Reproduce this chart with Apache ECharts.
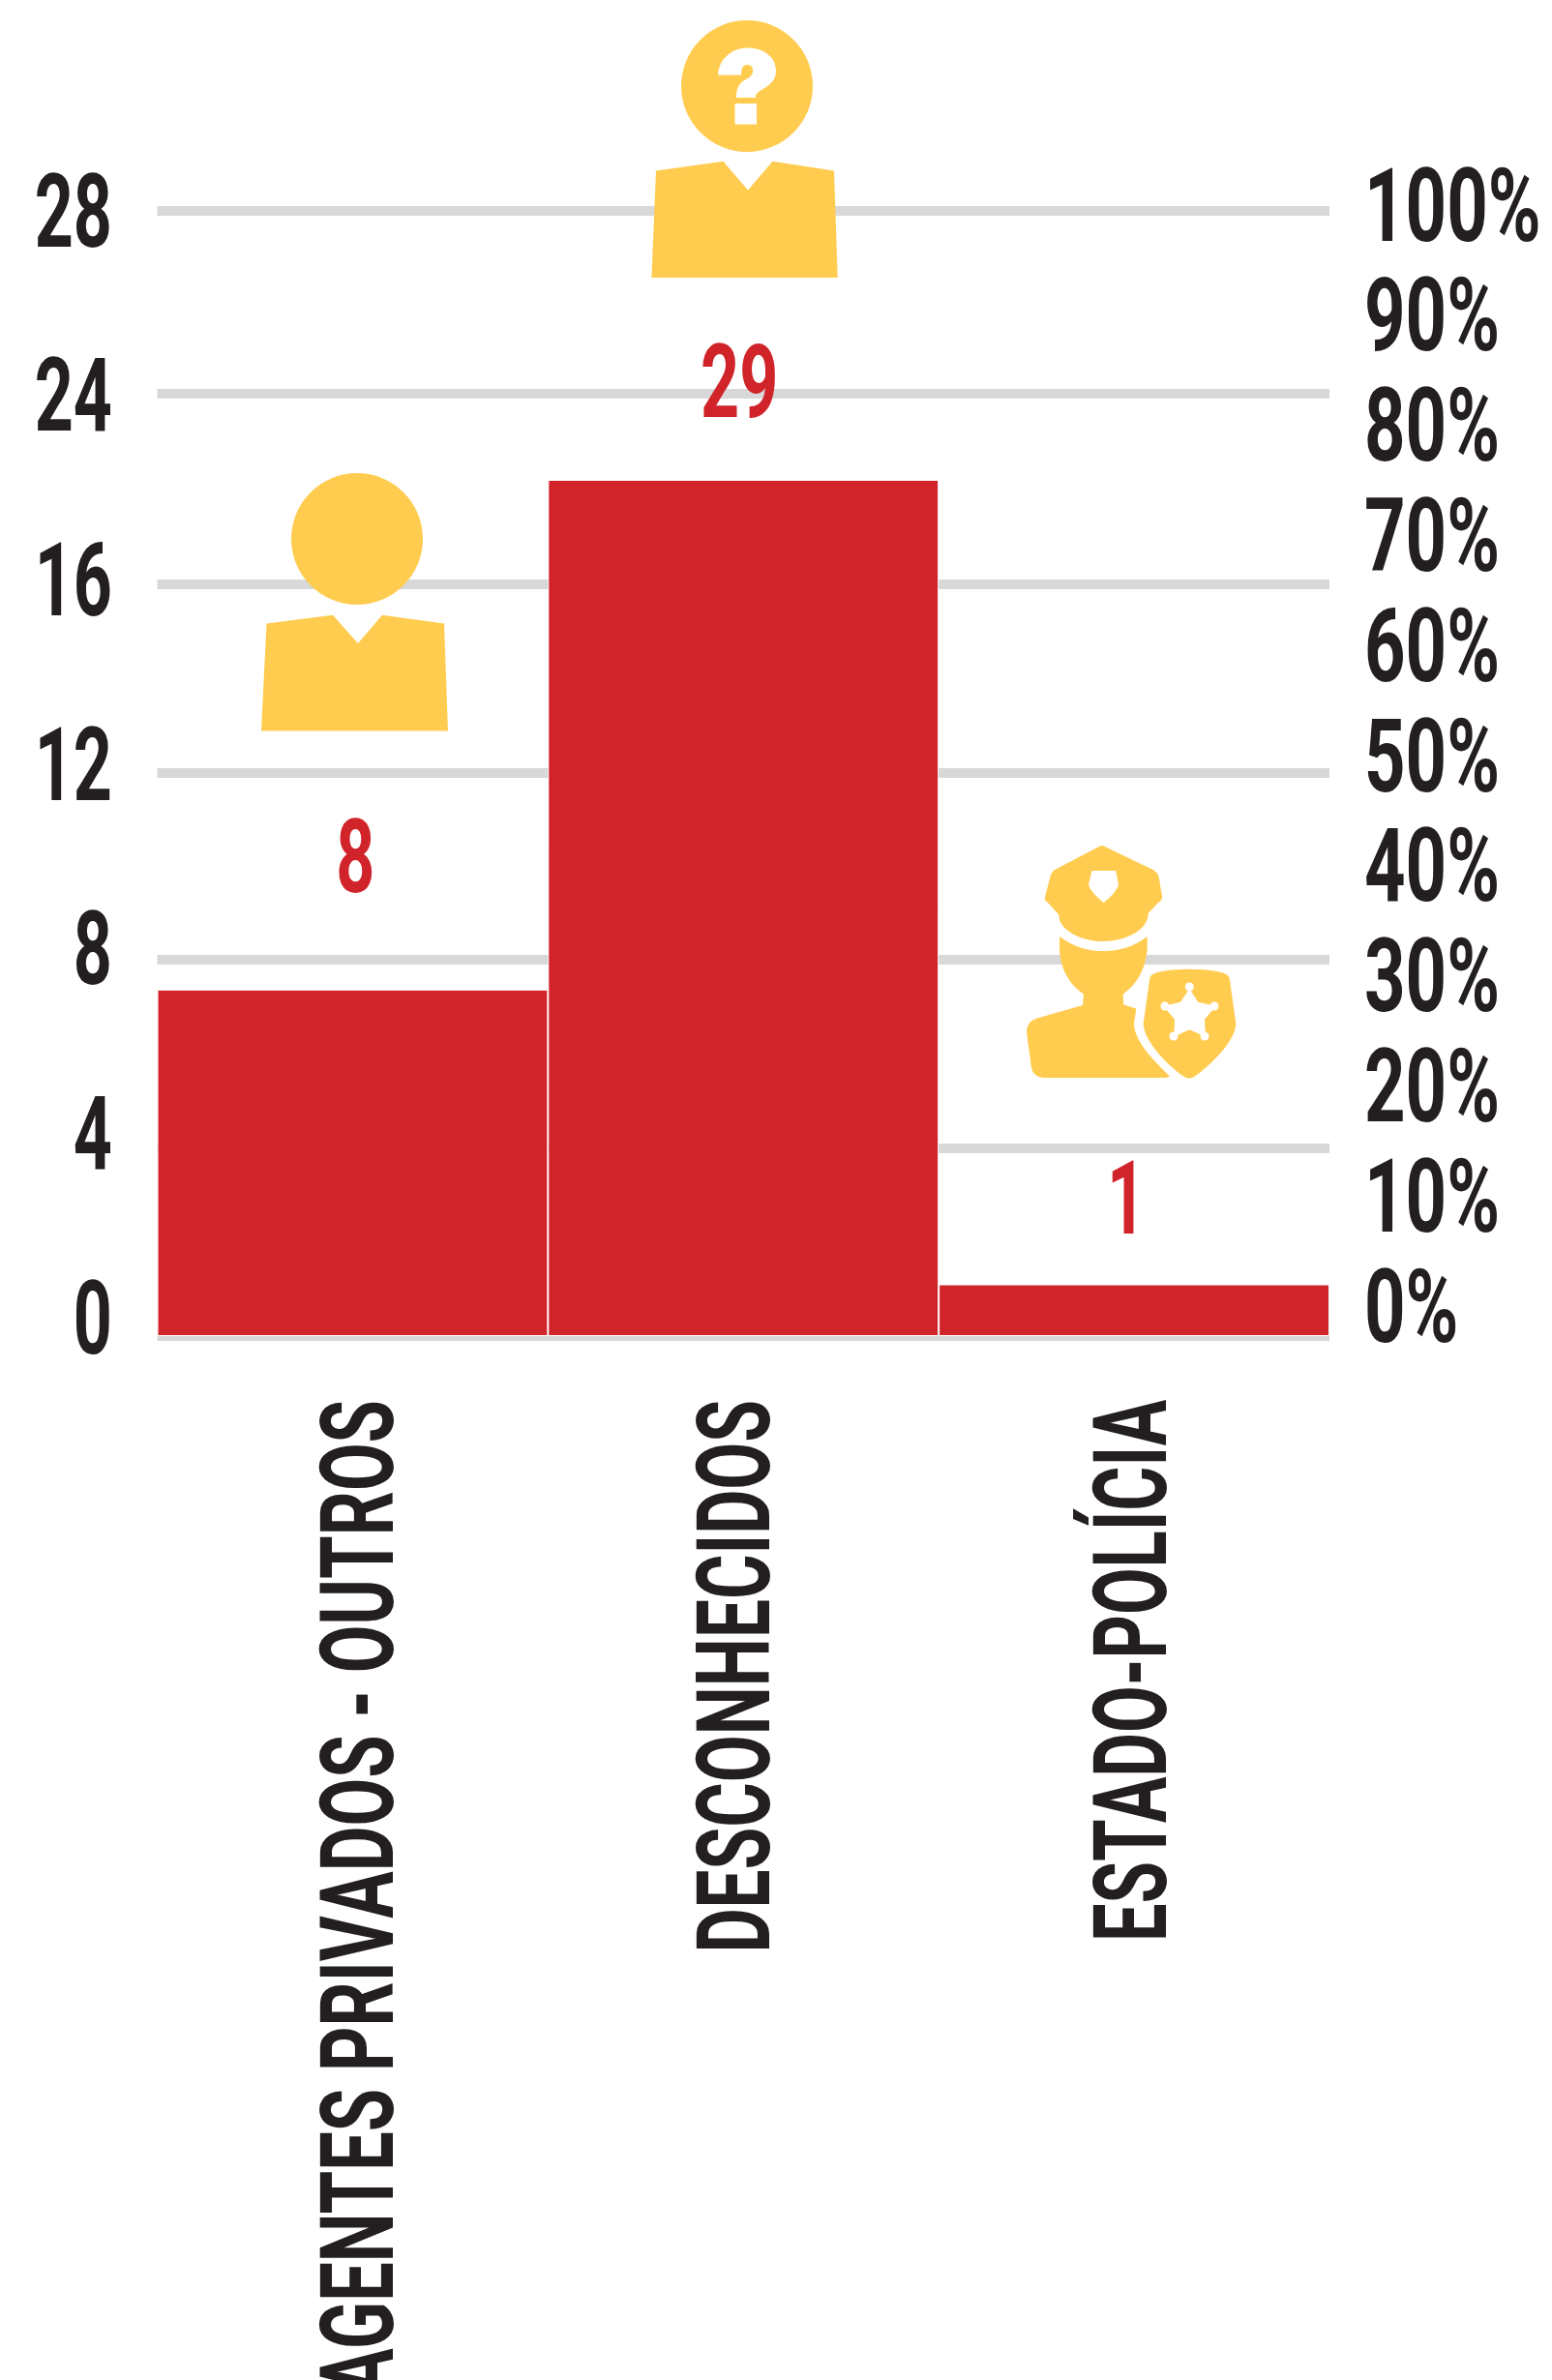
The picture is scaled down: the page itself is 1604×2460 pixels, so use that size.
<!DOCTYPE html>
<html>
<head>
<meta charset="utf-8">
<style>html,body{margin:0;padding:0;background:#fff}#c{width:1604px;height:2460px}</style>
<script src="https://cdn.jsdelivr.net/npm/echarts@6/dist/echarts.min.js"></script>
</head>
<body>
<div id="c"></div>
<script>
const categories = ['AGENTES PRIVADOS - OUTROS', 'DESCONHECIDOS', 'ESTADO-POLÍCIA'];
const counts = [8, 29, 1];
const barHeights = [30.8, 76.1, 4.6];
const gridLevels = [0, 16.68, 33.45, 50.04, 66.8, 83.75, 100];
const leftTicks = ['0', '4', '8', '12', '16', '24', '28'];
const rightTicks = ['0%', '10%', '20%', '30%', '40%', '50%', '60%', '70%', '80%', '90%', '100%'];

const RED = '#D0232A', INK = '#231F20', GOLD = '#FFCC50', GREY = '#D8D8D8';
const FONT = 'Roboto';
const FS = 106, SX = 0.66;

function txt(x, y, text, fill, align, scaleX, rotation) {
  return { type: 'text', x: x, y: y, scaleX: scaleX, rotation: rotation || 0, silent: true,
    style: { text: text, fill: fill, fontFamily: FONT, fontWeight: 700, fontSize: FS,
             align: align, verticalAlign: 'middle' } };
}
const catDx = [15, 0, 6];
const catDy = 66;
const catScale = [0.68, 0.67, 0.665];
const countDx = [3, -4, -8];
const countDy = [-127, -91, -79];

const iconPaths = [
  'M275.5,644.4 L344,635.7 L370,665 L395,635.7 L459,644.4 L463,755.6 L270,755.6 Z',
  'M678,176.5 L747.4,166.8 L773,196.4 L798.5,166.8 L862,176.5 L865.7,287 L673.4,287 Z',
  'M1140.7,874.6 L1191.7,899 Q1197,902 1198,908 L1201,927 Q1201,931 1197,933 L1186.7,944 C1186.7,962 1162,973 1140,973 C1118,973 1094.3,962 1094.3,945.4 L1083,933 Q1079,931 1080,927 L1085,908 Q1086,902 1090,899 L1136,875 Q1140,873 1140.7,874.6 Z M1128.3,900 L1125,915 Q1128,923 1140.7,933 Q1153,923 1156,915 L1153.3,900 Z',
  'M1095,967.9 C1110,979 1125,983 1140,983 C1155,983 1172,979 1185.7,967.9 L1185.7,979 C1185,1000 1175,1018 1160.7,1027.5 L1161.3,1038.6 L1174.3,1042.5 L1172,1058 C1172,1075 1190,1094 1209,1112.5 Q1207,1114 1203,1114 L1078,1114 Q1068,1113 1066,1104 L1061,1066.8 Q1061,1056 1071.7,1052.5 L1119,1039 L1120,1027.5 C1105,1018 1095,1000 1095,979 Z',
  'M1188.3,1011 Q1190,1002 1229.3,1001.8 Q1268,1002 1270.7,1011 L1277.3,1057.9 C1277,1078 1245,1106 1234,1113 Q1229,1116 1224,1113 C1213,1106 1181.7,1078 1181.7,1057.9 Z M1229.3,1022 L1220,1035.7 L1202.3,1040 L1214,1053.6 L1213.3,1071.4 L1229.3,1064.3 L1246,1071.4 L1245,1053.6 L1256.7,1040 L1238.3,1035.7 Z'
];
const starTips = [[1229.3, 1020], [1255, 1040], [1245, 1071], [1213, 1071], [1204, 1040]];
const questionPath = 'M742,77.5 C743,62 755,49.5 773,49.5 C790,49.5 802,60 802,73 C802,85 793,89 787,93 C782,96 781,97 781,101 L761,101 C761,92 763,86 771,82 C776,79 778,77 778,73 C778,69 776,67 772,67 C768,67 766,70 766,77.5 Z M759.5,107 L782,107 L782,128.6 L759.5,128.6 Z';

const chart = echarts.init(document.getElementById('c'), null, { renderer: 'canvas' });
const hiddenX = (i) => ({ type: 'value', gridIndex: i, min: 0, max: 1, show: false });
chart.setOption({
  animation: false,
  backgroundColor: '#fff',
  grid: [
    { left: 162.5, right: 230, top: 218, bottom: 1079 },
    { left: 0, width: 116, top: 228, bottom: 1088 },
    { left: 1410, width: 190, top: 222, bottom: 1100 }
  ],
  xAxis: [
    { type: 'category', gridIndex: 0, data: categories, axisLine: { show: false }, axisTick: { show: false }, axisLabel: { show: false } },
    hiddenX(1), hiddenX(2)
  ],
  yAxis: [
    { type: 'value', gridIndex: 0, min: 0, max: 100, axisLine: { show: false },
      axisTick: { show: false, customValues: gridLevels },
      axisLabel: { show: false, customValues: gridLevels },
      splitLine: { show: true, lineStyle: { color: GREY, width: 10 } } },
    { type: 'value', gridIndex: 1, min: 0, max: leftTicks.length - 1, show: false, splitLine: { show: false } },
    { type: 'value', gridIndex: 2, min: 0, max: rightTicks.length - 1, show: false, splitLine: { show: false } }
  ],
  series: [
    { type: 'bar', xAxisIndex: 0, yAxisIndex: 0, data: barHeights, barWidth: '100%',
      itemStyle: { color: RED, borderColor: '#fff', borderWidth: 1 }, silent: true, z: 3 },
    { type: 'custom', xAxisIndex: 0, yAxisIndex: 0, data: barHeights.map((v, i) => [i, v]), clip: false, z: 5,
      renderItem: (p, api) => {
        const c = api.coord([api.value(0), api.value(1)]);
        return txt(c[0] + countDx[p.dataIndex], c[1] + countDy[p.dataIndex], String(counts[p.dataIndex]), RED, 'center', SX);
      } },
    { type: 'custom', xAxisIndex: 0, yAxisIndex: 0, data: categories.map((n, i) => [i, 0]), clip: false, z: 5,
      renderItem: (p, api) => {
        const c = api.coord([api.value(0), 0]);
        return txt(c[0] + catDx[p.dataIndex], c[1] + catDy, categories[p.dataIndex], INK, 'right', catScale[p.dataIndex], Math.PI / 2);
      } },
    { type: 'custom', xAxisIndex: 1, yAxisIndex: 1, data: leftTicks.map((t, i) => [1, i]), clip: false, z: 5,
      renderItem: (p, api) => {
        const c = api.coord([1, api.value(1)]);
        return txt(c[0], c[1], leftTicks[p.dataIndex], INK, 'right', SX);
      } },
    { type: 'custom', xAxisIndex: 2, yAxisIndex: 2, data: rightTicks.map((t, i) => [0, i]), clip: false, z: 5,
      renderItem: (p, api) => {
        const c = api.coord([0, api.value(1)]);
        return txt(c[0], c[1], rightTicks[p.dataIndex], INK, 'left', 0.7);
      } },
    { type: 'custom', xAxisIndex: 0, yAxisIndex: 0, data: [[0, 0]], clip: false, z: 10, silent: true,
      renderItem: () => ({ type: 'group', children: [
        { type: 'circle', shape: { cx: 369, cy: 557, r: 68 }, style: { fill: GOLD } },
        { type: 'circle', shape: { cx: 772, cy: 89, r: 68 }, style: { fill: GOLD } }
      ].concat(iconPaths.map(d => ({ type: 'path', shape: { pathData: d }, style: { fill: GOLD } })))
       .concat([{ type: 'path', shape: { pathData: questionPath }, style: { fill: '#fff' } }])
       .concat(starTips.map(t => ({ type: 'circle', shape: { cx: t[0], cy: t[1], r: 4.5 }, style: { fill: '#fff' } }))) }) }
  ]
});
</script>
</body>
</html>
